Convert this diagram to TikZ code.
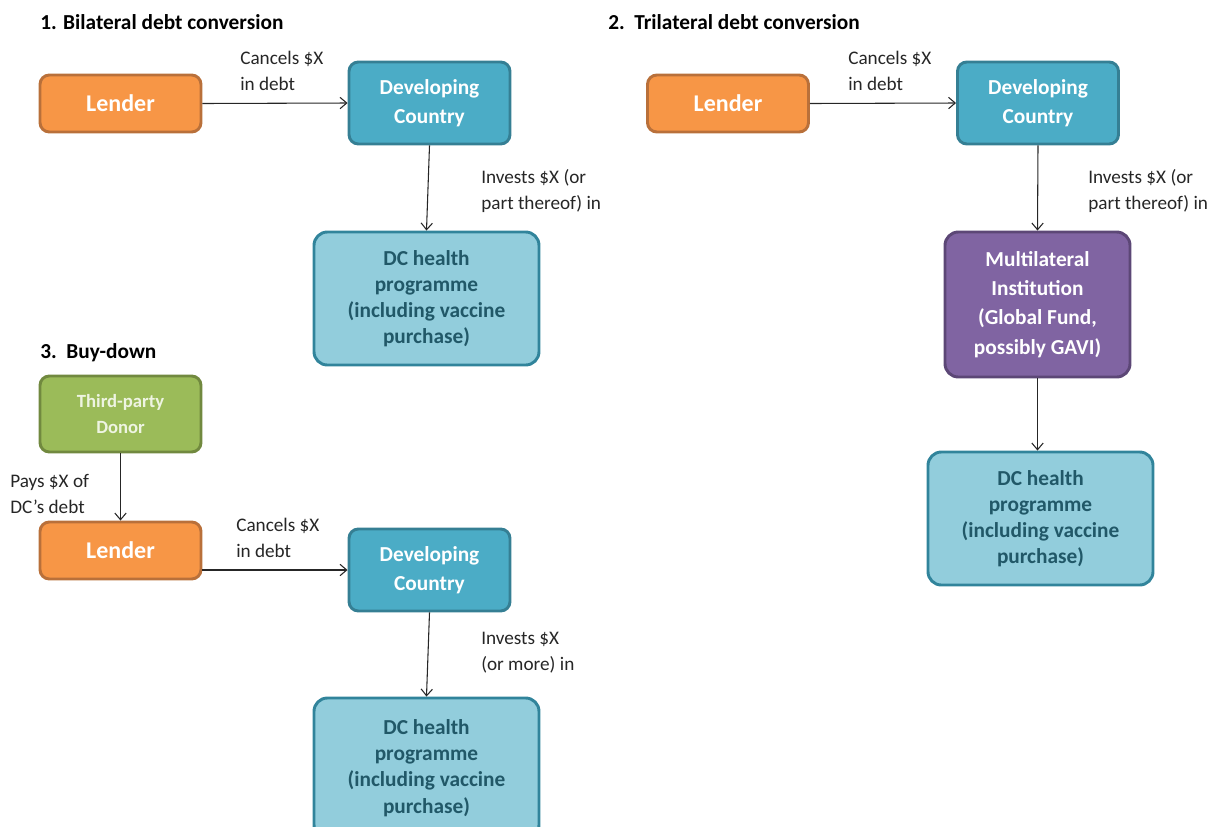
\documentclass[tikz,border=0pt]{standalone}
\usepackage{fontspec}
\setmainfont{Carlito}
\usetikzlibrary{arrows.meta}
\definecolor{orfill}{HTML}{F79646}
\definecolor{ordraw}{HTML}{B9703A}
\definecolor{dcfill}{HTML}{4BACC6}
\definecolor{dcdraw}{HTML}{357F94}
\definecolor{hfill}{HTML}{92CDDC}
\definecolor{hdraw}{HTML}{31849B}
\definecolor{htext}{HTML}{215868}
\definecolor{pufill}{HTML}{8064A2}
\definecolor{pudraw}{HTML}{5C4776}
\definecolor{grfill}{HTML}{9BBB59}
\definecolor{grdraw}{HTML}{71893F}
\definecolor{grtext}{HTML}{EEF4E2}
\definecolor{linec}{HTML}{262626}
\tikzset{
  boxbase/.style={draw, line width=2.2pt, rounded corners=7pt, align=center, inner sep=0pt, font=\bfseries},
  lenderbox/.style={boxbase, fill=orfill, draw=ordraw, text=white, minimum width=120.75pt, minimum height=42.75pt, font=\fontsize{18}{22}\selectfont\bfseries},
  dcbox/.style={boxbase, fill=dcfill, draw=dcdraw, text=white, minimum width=120.75pt, minimum height=61.5pt, font=\fontsize{16}{21.75}\selectfont\bfseries},
  healthbox/.style={boxbase, fill=hfill, draw=hdraw, text=htext, rounded corners=10pt, minimum width=168.75pt, minimum height=99.75pt, font=\fontsize{16}{19.6}\selectfont\bfseries},
  multibox/.style={boxbase, fill=pufill, draw=pudraw, text=white, rounded corners=10pt, minimum width=138.75pt, minimum height=108.75pt, font=\fontsize{16}{22}\selectfont\bfseries},
  donorbox/.style={boxbase, fill=grfill, draw=grdraw, text=grtext, minimum width=120.75pt, minimum height=57pt, font=\fontsize{14}{19.5}\selectfont\bfseries},
  lbl/.style={anchor=west, align=left, inner sep=0pt, text=black!85, font=\fontsize{14.4}{19.5}\selectfont},
  ttl/.style={anchor=west, inner sep=0pt, text=black, font=\fontsize{16}{19}\selectfont\bfseries},
  conn/.style={draw=linec, line width=0.8pt, -{Straight Barb[length=5pt,width=8.5pt,line width=0.8pt]}}
}
\begin{document}
\begin{tikzpicture}[x=0.75pt,y=-0.75pt]
\useasboundingbox (0,0) rectangle (1210,826);
% titles
\node[ttl] (t1) at (40,22) {1. Bilateral debt conversion};
\node[ttl] (t2) at (608,22) {2.\ \ Trilateral debt conversion};
\node[ttl] (t3) at (40,353) {3.\ \ Buy-down};
% section 1
\node[lenderbox] (len1) at (120.5,103.5) {Lender};
\node[dcbox] (dc1) at (429.5,103) {Developing\\Country};
\node[healthbox] (h1) at (426.5,298.5) {DC health\\programme\\(including vaccine\\purchase)};
\draw[conn] (len1.east) -- (dc1.west);
\draw[conn] (dc1.south) -- (h1.north);
\node[lbl] (c1) at (240,71) {Cancels \$X\\in debt};
\node[lbl] (i1) at (481,191) {Invests \$X (or\\part thereof) in};
% section 2
\node[lenderbox] (len2) at (728,103.5) {Lender};
\node[dcbox] (dc2) at (1038,103) {Developing\\Country};
\node[multibox] (mu) at (1037.5,304.5) {Multilateral\\Institution\\(Global Fund,\\possibly GAVI)};
\node[healthbox] (h2) at (1040.5,518.5) {DC health\\programme\\(including vaccine\\purchase)};
\draw[conn] (len2.east) -- (dc2.west);
\draw[conn] (dc2.south) -- (mu.north);
\draw[conn] (mu.south) -- (mu.south |- h2.north);
\node[lbl] (c2) at (848,71) {Cancels \$X\\in debt};
\node[lbl] (i2) at (1088,191) {Invests \$X (or\\part thereof) in};
% section 3
\node[donorbox] (don) at (120.5,414) {Third-party\\Donor};
\node[lenderbox] (len3) at (120.5,550.5) {Lender};
\node[dcbox] (dc3) at (429.5,570) {Developing\\Country};
\node[healthbox, minimum height=105pt] (h3) at (426.5,768) {DC health\\programme\\(including vaccine\\purchase)};
\draw[conn] (don.south) -- (len3.north);
\draw[conn] (len3.east |- dc3.west) -- (dc3.west);
\draw[conn] (dc3.south) -- (h3.north);
\node[lbl] (p3) at (10,493.5) {Pays \$X of\\DC’s debt};
\node[lbl] (c3) at (236,538) {Cancels \$X\\in debt};
\node[lbl] (i3) at (481,653) {Invests \$X\\(or more) in};
\end{tikzpicture}
\end{document}
